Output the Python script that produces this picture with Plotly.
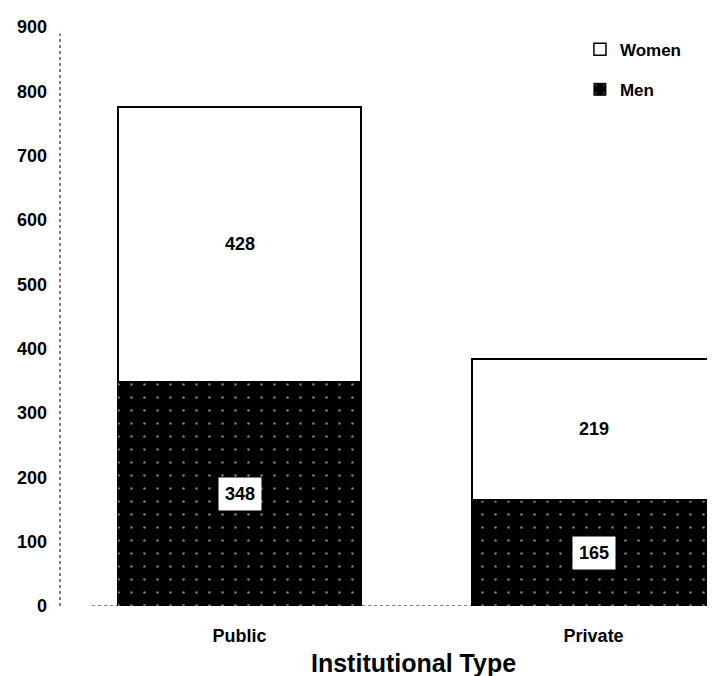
import plotly.graph_objects as go

categories = ["Public", "Private"]
men = [348, 165]
women = [428, 219]
y_ticks = [0, 100, 200, 300, 400, 500, 600, 700, 800, 900]

FONT = "Liberation Sans"

fig = go.Figure()
fig.add_trace(go.Bar(
    x=categories, y=men, name="Men", legendgroup="m", legendrank=2,
    width=0.687,
    marker=dict(color="black", line=dict(color="black", width=1),
                pattern=dict(shape=".", bgcolor="black", fgcolor="white",
                             size=13, solidity=0.03, fillmode="overlay")),
))
fig.add_trace(go.Bar(
    x=categories, y=women, name="Women", legendgroup="w", legendrank=1,
    width=0.687,
    marker=dict(color="white", line=dict(color="black", width=1.5)),
))

# value labels
for i, c in enumerate(categories):
    fig.add_annotation(x=c, y=men[i] / 2, text=f"<b>{men[i]}</b>", showarrow=False,
                       bgcolor="white", borderpad=6,
                       font=dict(family=FONT, size=18, color="black"))
    fig.add_annotation(x=c, y=men[i] + women[i] / 2, text=f"<b>{women[i]}</b>",
                       showarrow=False,
                       font=dict(family=FONT, size=18, color="black"))

# x-axis title
fig.add_annotation(xref="paper", yref="paper", x=0.54, y=-0.099,
                   xanchor="center", yanchor="middle", showarrow=False,
                   text="<b>Institutional Type</b>",
                   font=dict(family=FONT, size=25, color="black"))

# dotted axis lines
fig.add_shape(type="line", xref="paper", yref="y", x0=0, x1=0, y0=0, y1=890,
              line=dict(color="black", width=1, dash="dot"), layer="below")
fig.add_shape(type="line", xref="paper", yref="y", x0=0.049, x1=1, y0=0, y1=0,
              line=dict(color="black", width=1, dash="dot"), layer="below")

fig.update_layout(
    width=715, height=676,
    margin=dict(l=50, r=9, t=14, b=78),
    paper_bgcolor="white", plot_bgcolor="white",
    barmode="stack",
    font=dict(family=FONT, color="black"),
    showlegend=True,
    legend=dict(x=0.795, y=0.992, xanchor="left", yanchor="top",
                traceorder="grouped", tracegroupgap=15,
                font=dict(family=FONT, size=17, weight="bold"),
                bgcolor="rgba(0,0,0,0)", itemwidth=30),
    xaxis=dict(range=[-0.507, 1.34], showline=False, showgrid=False, ticks="",
               ticklabelstandoff=17,
               tickfont=dict(family=FONT, size=18, weight="bold")),
    yaxis=dict(range=[0, 900], tickvals=y_ticks, showgrid=False, showline=False,
               zeroline=False, ticks="", ticklabelstandoff=12,
               tickfont=dict(family=FONT, size=18, weight="bold")),
)

fig.write_html("out.html")
